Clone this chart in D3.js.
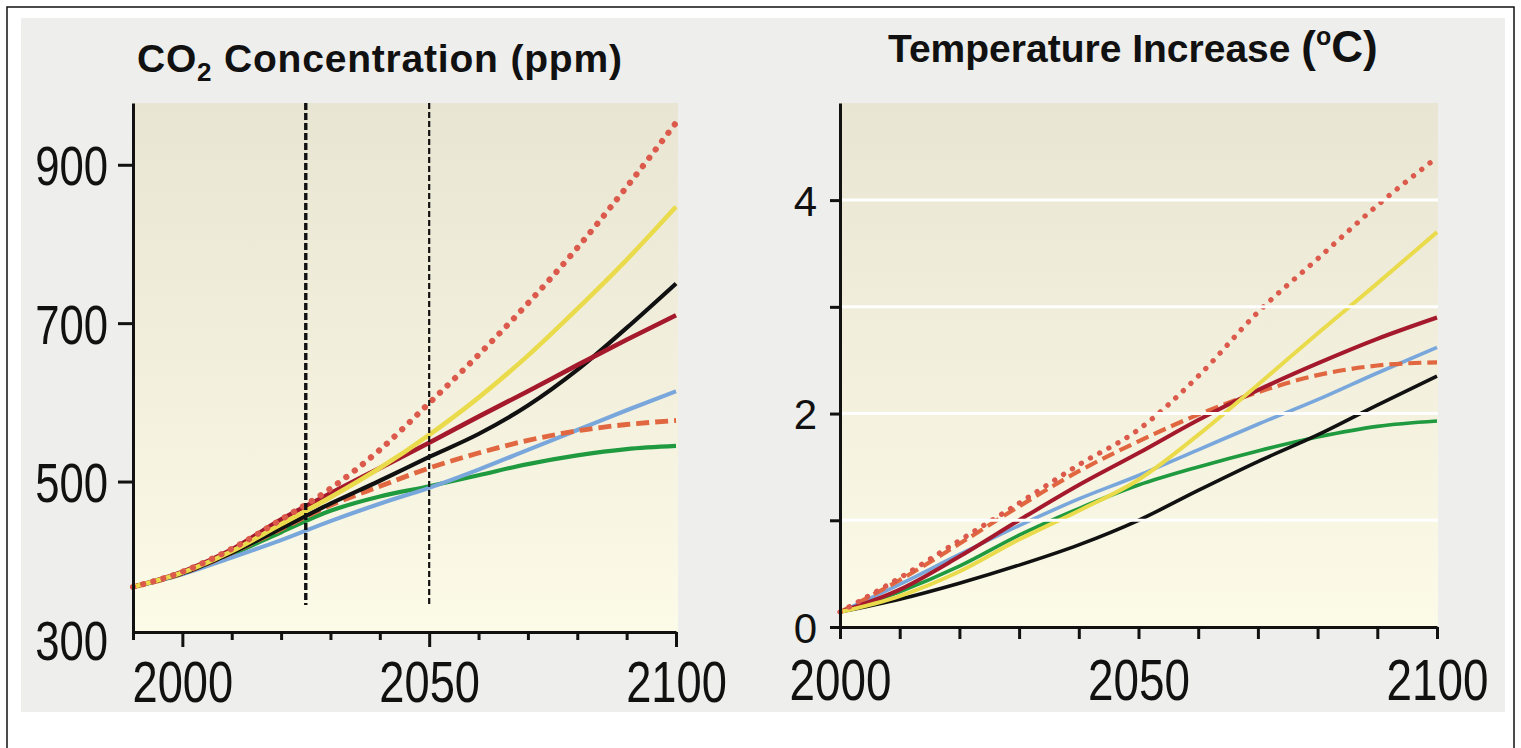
<!DOCTYPE html>
<html>
<head>
<meta charset="utf-8">
<script src="https://cdn.jsdelivr.net/npm/d3@7"></script>
<style>
  body { margin: 0; background: #ffffff; }
  svg { display: block; }
  text { font-family: "Liberation Sans", Arial, Helvetica, sans-serif; fill: #111; }
</style>
</head>
<body>
<svg id="chart" width="1521" height="748"></svg>
<script>
// ---- CO2 concentration (ppm), one value per decade ----
const co2Years        = [1990, 2000, 2010, 2020, 2030, 2040, 2050, 2060, 2070, 2080, 2090, 2100];
const co2DottedRed    = [367, 386, 415, 452, 491, 540, 599, 660, 725, 795, 872, 953];
const co2Yellow       = [367, 385, 412, 446, 480, 517, 559, 606, 659, 718, 780, 847];
const co2Black        = [367, 384, 410, 441, 472, 501, 531, 560, 596, 641, 694, 750];
const co2DarkRed      = [367, 386, 414, 452, 485, 517, 549, 582, 614, 647, 679, 710];
const co2Blue         = [367, 383, 404, 426, 450, 472, 492, 515, 540, 565, 590, 614];
const co2DashedOrange = [367, 384, 410, 440, 470, 494, 517, 536, 552, 564, 572, 577];
const co2Green        = [367, 384, 408, 436, 463, 481, 494, 508, 522, 533, 541, 545];

// ---- Temperature increase (°C), one value per decade ----
const tempYears        = [2000, 2010, 2020, 2030, 2040, 2050, 2060, 2070, 2080, 2090, 2100];
const tempDottedRed    = [0.14, 0.46, 0.81, 1.16, 1.52, 1.85, 2.35, 2.95, 3.45, 3.95, 4.40];
const tempYellow       = [0.14, 0.29, 0.52, 0.82, 1.09, 1.38, 1.80, 2.27, 2.75, 3.22, 3.70];
const tempDarkRed      = [0.14, 0.35, 0.66, 1.00, 1.33, 1.63, 1.94, 2.22, 2.47, 2.70, 2.90];
const tempBlue         = [0.14, 0.40, 0.68, 0.95, 1.20, 1.42, 1.66, 1.90, 2.13, 2.38, 2.62];
const tempDashedOrange = [0.14, 0.44, 0.78, 1.13, 1.46, 1.74, 1.99, 2.20, 2.36, 2.45, 2.48];
const tempBlack        = [0.14, 0.26, 0.41, 0.58, 0.77, 1.00, 1.28, 1.55, 1.80, 2.08, 2.35];
const tempGreen        = [0.14, 0.33, 0.57, 0.86, 1.11, 1.33, 1.50, 1.65, 1.78, 1.88, 1.93];

// ---- axis ticks and labels ----
const co2XTicks      = [1990, 2000, 2010, 2020, 2030, 2040, 2050, 2060, 2070, 2080, 2090, 2100];
const co2XLabels     = [2000, 2050, 2100];
const co2YTicks      = [300, 500, 700, 900];
const co2Markers     = [2025, 2050];     // reference years shown as dashed verticals
const co2MarkerFloor = 344;              // ppm where the reference verticals stop
const tempXTicks     = [2000, 2010, 2020, 2030, 2040, 2050, 2060, 2070, 2080, 2090, 2100];
const tempXLabels    = [2000, 2050, 2100];
const tempYTicks     = [0, 1, 2, 3, 4];
const tempYLabels    = [0, 2, 4];
const tempGrid       = [1, 2, 3, 4];

// ---- line styles (draw order: first drawn at the bottom) ----
const lineStyles = {
  green:        { color: "#1f9a3f", width: 3.8, dash: null },
  blue:         { color: "#79a7dc", width: 3.8, dash: null },
  dashedOrange: { color: "#e0673f", width: 4.4, dash: "13 6" },
  black:        { color: "#111111", width: 3.8, dash: null },
  darkRed:      { color: "#a5192d", width: 4.2, dash: null },
  yellow:       { color: "#eadb4c", width: 4.2, dash: null },
  dottedRed:    { color: "#dc5a4c", width: 5.6, dash: "0.1 10.4", cap: "round" }
};
const co2Series = {
  green: co2Green, blue: co2Blue, dashedOrange: co2DashedOrange, black: co2Black,
  darkRed: co2DarkRed, yellow: co2Yellow, dottedRed: co2DottedRed
};
const tempSeries = {
  black: tempBlack, green: tempGreen, blue: tempBlue, yellow: tempYellow,
  dashedOrange: tempDashedOrange, darkRed: tempDarkRed, dottedRed: tempDottedRed
};

const svg = d3.select("#chart");

// page frame and grey card
svg.append("rect").attr("x", 7).attr("y", 7).attr("width", 1507).attr("height", 800)
  .attr("fill", "#ffffff").attr("stroke", "#111").attr("stroke-width", 1.5);
svg.append("rect").attr("x", 21).attr("y", 18).attr("width", 1484).attr("height", 694)
  .attr("fill", "#eeeeec");

// plot-area background: warm beige fading to pale yellow
const defs = svg.append("defs");
const grad = defs.append("linearGradient").attr("id", "plotBg")
  .attr("x1", 0).attr("y1", 0).attr("x2", 0).attr("y2", 1);
grad.append("stop").attr("offset", "0%").attr("stop-color", "#e8e5d3");
grad.append("stop").attr("offset", "55%").attr("stop-color", "#f3f1de");
grad.append("stop").attr("offset", "100%").attr("stop-color", "#fcfbe8");

// ---- scales ----
const xL = d3.scaleLinear().domain([1990, 2100]).range([133, 676]);
const yL = d3.scaleLinear().domain([310, 978]).range([632, 103]);
const xR = d3.scaleLinear().domain([2000, 2100]).range([840, 1437]);
const yR = d3.scaleLinear().domain([0, 4.91]).range([627, 103]);

function drawLines(g, xs, ys, years, series, widthScale) {
  Object.keys(lineStyles).forEach(key => {
    if (!series[key]) return;
    const st = lineStyles[key];
    const line = d3.line()
      .x((d, i) => xs(years[i]))
      .y(d => ys(d))
      .curve(d3.curveMonotoneX);
    g.append("path")
      .datum(series[key])
      .attr("d", line)
      .attr("fill", "none")
      .attr("stroke", st.color)
      .attr("stroke-width", st.width * widthScale)
      .attr("stroke-linecap", st.cap || "butt")
      .attr("stroke-linejoin", "round")
      .attr("stroke-dasharray", st.dash);
  });
}

function styleAxis(g) {
  g.select(".domain").attr("stroke", "#111").attr("stroke-width", 3);
  g.selectAll(".tick line").attr("stroke", "#111").attr("stroke-width", 3);
}

// ================= Left panel: CO2 concentration =================
const left = svg.append("g");
left.append("rect")
  .attr("x", xL(1990)).attr("y", yL(978))
  .attr("width", xL(2100) - xL(1990) + 2).attr("height", yL(310) - yL(978))
  .attr("fill", "url(#plotBg)");

left.append("text")
  .attr("x", 137).attr("y", 72)
  .attr("font-size", 39).attr("font-weight", "bold")
  .attr("letter-spacing", 0.8)
  .call(t => {
    t.append("tspan").text("CO");
    t.append("tspan").attr("font-size", 26).attr("dy", 9).text("2");
    t.append("tspan").attr("dy", -9).text(" Concentration (ppm)");
  });

drawLines(left.append("g"), xL, yL, co2Years, co2Series, 1.1);

// reference-year dashed verticals
left.selectAll(".marker").data(co2Markers).enter().append("line")
  .attr("x1", d => xL(d)).attr("x2", d => xL(d))
  .attr("y1", yL(978)).attr("y2", yL(co2MarkerFloor))
  .attr("stroke", "#111")
  .attr("stroke-width", (d, i) => i === 0 ? 3.4 : 2.2)
  .attr("stroke-dasharray", (d, i) => i === 0 ? "7 3" : "6 3");

// x axis
const gxL = left.append("g").attr("transform", `translate(0,${yL(310)})`)
  .call(d3.axisBottom(xL).tickValues(co2XTicks).tickSize(8).tickSizeOuter(0)
    .tickFormat(d => co2XLabels.includes(d) ? d : ""));
styleAxis(gxL);
gxL.selectAll(".tick line").attr("y2", d => co2XLabels.includes(d) ? 15 : 8);
gxL.selectAll(".tick text")
  .attr("x", 0).attr("y", 0).attr("dy", null)
  .attr("transform", "translate(0,70) scale(0.78,1)")
  .attr("font-size", 58).attr("fill", "#111")
  .attr("font-family", "'Liberation Sans', Arial, sans-serif");

// y axis
const gyL = left.append("g").attr("transform", `translate(${xL(1990)},0)`)
  .call(d3.axisLeft(yL).tickValues(co2YTicks).tickSize(15).tickSizeOuter(0).tickFormat(d3.format("d")));
styleAxis(gyL);
gyL.selectAll(".tick").filter(d => d === 300).select("line").remove();
gyL.selectAll(".tick text")
  .attr("x", 0).attr("dy", null).attr("y", 0)
  .attr("transform", "translate(-25,20) scale(0.78,1)")
  .attr("font-size", 56).attr("fill", "#111")
  .attr("font-family", "'Liberation Sans', Arial, sans-serif");

// ================= Right panel: temperature increase =================
const right = svg.append("g");
right.append("rect")
  .attr("x", xR(2000)).attr("y", yR(4.91))
  .attr("width", xR(2100) - xR(2000) + 1).attr("height", yR(0) - yR(4.91))
  .attr("fill", "url(#plotBg)");

right.append("text")
  .attr("x", 888).attr("y", 62)
  .attr("font-size", 39).attr("font-weight", "bold")
  .call(t => {
    t.append("tspan").text("Temperature Increase ");
    t.append("tspan").attr("font-size", 44).text("(");
    t.append("tspan").attr("font-size", 25).attr("dy", -17).text("o");
    t.append("tspan").attr("font-size", 44).attr("dy", 17).text("C)");
  });

drawLines(right.append("g"), xR, yR, tempYears, tempSeries, 0.95);

// white gridlines sit on top of the curves
right.selectAll(".grid").data(tempGrid).enter().append("line")
  .attr("x1", xR(2000)).attr("x2", xR(2100) + 1)
  .attr("y1", d => yR(d)).attr("y2", d => yR(d))
  .attr("stroke", "#ffffff").attr("stroke-width", 3);

const gxR = right.append("g").attr("transform", `translate(0,${yR(0)})`)
  .call(d3.axisBottom(xR).tickValues(tempXTicks).tickSize(12).tickSizeOuter(0)
    .tickFormat(d => tempXLabels.includes(d) ? d : ""));
styleAxis(gxR);
gxR.selectAll(".tick text")
  .attr("x", 0).attr("y", 0).attr("dy", null)
  .attr("transform", "translate(0,73) scale(0.79,1)")
  .attr("font-size", 58).attr("fill", "#111")
  .attr("font-family", "'Liberation Sans', Arial, sans-serif");

const gyR = right.append("g").attr("transform", `translate(${xR(2000)},0)`)
  .call(d3.axisLeft(yR).tickValues(tempYTicks).tickSize(10).tickSizeOuter(0)
    .tickFormat(d => tempYLabels.includes(d) ? d : ""));
styleAxis(gyR);
gyR.selectAll(".tick text")
  .attr("x", -23).attr("dy", "0.36em")
  .attr("font-size", 42).attr("fill", "#111")
  .attr("font-family", "'Liberation Sans', Arial, sans-serif");
</script>
</body>
</html>
